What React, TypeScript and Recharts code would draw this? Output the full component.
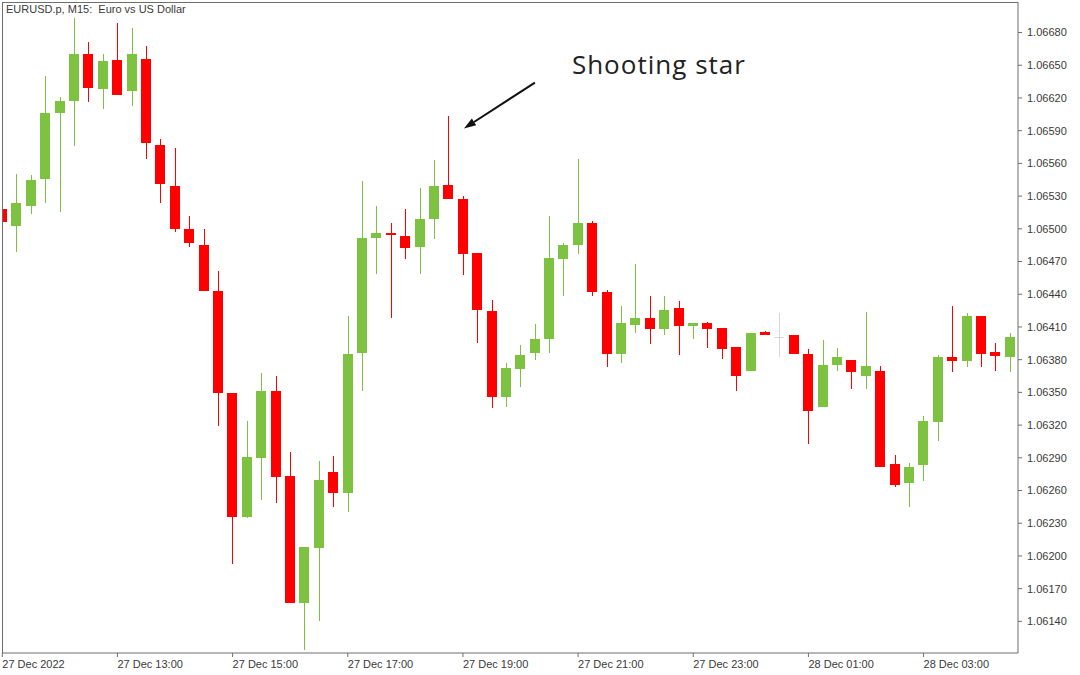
import React from 'react';
import { ComposedChart, Bar, XAxis, YAxis, ReferenceLine, ReferenceDot } from 'recharts';

const UP = '#7ec242';
const DOWN = '#ff0000';
const DOJI = '#d6d6d6';
const AXIS = '#6e6e6e';
const TEXT = '#3a3a3a';
const FONT = '"Liberation Sans", Arial, sans-serif';

// 27 Dec 11:00 -> 28 Dec 04:30, M15 bars
const times = [
  '27 Dec 11:00', '27 Dec 11:15', '27 Dec 11:30', '27 Dec 11:45',
  '27 Dec 12:00', '27 Dec 12:15', '27 Dec 12:30', '27 Dec 12:45',
  '27 Dec 13:00', '27 Dec 13:15', '27 Dec 13:30', '27 Dec 13:45',
  '27 Dec 14:00', '27 Dec 14:15', '27 Dec 14:30', '27 Dec 14:45',
  '27 Dec 15:00', '27 Dec 15:15', '27 Dec 15:30', '27 Dec 15:45',
  '27 Dec 16:00', '27 Dec 16:15', '27 Dec 16:30', '27 Dec 16:45',
  '27 Dec 17:00', '27 Dec 17:15', '27 Dec 17:30', '27 Dec 17:45',
  '27 Dec 18:00', '27 Dec 18:15', '27 Dec 18:30', '27 Dec 18:45',
  '27 Dec 19:00', '27 Dec 19:15', '27 Dec 19:30', '27 Dec 19:45',
  '27 Dec 20:00', '27 Dec 20:15', '27 Dec 20:30', '27 Dec 20:45',
  '27 Dec 21:00', '27 Dec 21:15', '27 Dec 21:30', '27 Dec 21:45',
  '27 Dec 22:00', '27 Dec 22:15', '27 Dec 22:30', '27 Dec 22:45',
  '27 Dec 23:00', '27 Dec 23:15', '27 Dec 23:30', '27 Dec 23:45',
  '28 Dec 00:00', '28 Dec 00:15', '28 Dec 00:30', '28 Dec 00:45',
  '28 Dec 01:00', '28 Dec 01:15', '28 Dec 01:30', '28 Dec 01:45',
  '28 Dec 02:00', '28 Dec 02:15', '28 Dec 02:30', '28 Dec 02:45',
  '28 Dec 03:00', '28 Dec 03:15', '28 Dec 03:30', '28 Dec 03:45',
  '28 Dec 04:00', '28 Dec 04:15', '28 Dec 04:30',
];

const opens = [
  1.06518, 1.06503, 1.06521, 1.06546, 1.06606, 1.06617, 1.06660, 1.06628, 1.06655, 1.06626,
  1.06656, 1.06577, 1.06539, 1.06500, 1.06485, 1.06443, 1.06349, 1.06236, 1.06290, 1.06351,
  1.06273, 1.06157, 1.06207, 1.06277, 1.06258, 1.06386, 1.06492, 1.06496, 1.06493, 1.06483,
  1.06509, 1.06540, 1.06527, 1.06478, 1.06425, 1.06346, 1.06371, 1.06386, 1.06399, 1.06472,
  1.06485, 1.06505, 1.06442, 1.06385, 1.06412, 1.06418, 1.06408, 1.06427, 1.06411, 1.06414,
  1.06409, 1.06392, 1.06370, 1.06405, 1.06401, 1.06403, 1.06385, 1.06337, 1.06375, 1.06380,
  1.06365, 1.06370, 1.06284, 1.06267, 1.06283, 1.06323, 1.06382, 1.06379, 1.06420, 1.06387,
  1.06382,
];

const highs = [
  1.06519, 1.06550, 1.06549, 1.06640, 1.06621, 1.06693, 1.06671, 1.06660, 1.06689, 1.06684,
  1.06668, 1.06582, 1.06574, 1.06512, 1.06500, 1.06461, 1.06349, 1.06324, 1.06368, 1.06365,
  1.06295, 1.06208, 1.06287, 1.06292, 1.06420, 1.06544, 1.06521, 1.06505, 1.06518, 1.06537,
  1.06563, 1.06603, 1.06530, 1.06478, 1.06435, 1.06377, 1.06393, 1.06413, 1.06512, 1.06487,
  1.06564, 1.06507, 1.06444, 1.06429, 1.06468, 1.06438, 1.06438, 1.06434, 1.06414, 1.06415,
  1.06409, 1.06392, 1.06404, 1.06406, 1.06423, 1.06403, 1.06390, 1.06398, 1.06391, 1.06380,
  1.06424, 1.06374, 1.06293, 1.06285, 1.06328, 1.06384, 1.06429, 1.06423, 1.06420, 1.06395,
  1.06404,
];

const lows = [
  1.06505, 1.06479, 1.06514, 1.06524, 1.06515, 1.06576, 1.06616, 1.06610, 1.06623, 1.06613,
  1.06564, 1.06524, 1.06497, 1.06483, 1.06443, 1.06319, 1.06193, 1.06235, 1.06251, 1.06249,
  1.06157, 1.06114, 1.06140, 1.06245, 1.06240, 1.06351, 1.06459, 1.06418, 1.06472, 1.06459,
  1.06491, 1.06527, 1.06458, 1.06395, 1.06336, 1.06337, 1.06355, 1.06380, 1.06386, 1.06438,
  1.06477, 1.06438, 1.06373, 1.06377, 1.06404, 1.06394, 1.06403, 1.06384, 1.06399, 1.06391,
  1.06381, 1.06351, 1.06370, 1.06403, 1.06382, 1.06385, 1.06303, 1.06337, 1.06370, 1.06353,
  1.06353, 1.06282, 1.06263, 1.06245, 1.06269, 1.06305, 1.06369, 1.06373, 1.06373, 1.06370,
  1.06369,
];

const closes = [
  1.06506, 1.06524, 1.06545, 1.06606, 1.06617, 1.06660, 1.06629, 1.06654, 1.06623, 1.06660,
  1.06579, 1.06541, 1.06500, 1.06487, 1.06443, 1.06349, 1.06236, 1.06291, 1.06351, 1.06272,
  1.06157, 1.06208, 1.06270, 1.06258, 1.06385, 1.06492, 1.06496, 1.06494, 1.06482, 1.06509,
  1.06539, 1.06527, 1.06477, 1.06426, 1.06346, 1.06372, 1.06384, 1.06399, 1.06473, 1.06485,
  1.06505, 1.06442, 1.06385, 1.06414, 1.06418, 1.06408, 1.06426, 1.06411, 1.06414, 1.06408,
  1.06390, 1.06365, 1.06404, 1.06403, 1.06401, 1.06385, 1.06333, 1.06375, 1.06382, 1.06369,
  1.06374, 1.06282, 1.06265, 1.06282, 1.06324, 1.06382, 1.06379, 1.06420, 1.06385, 1.06383,
  1.06401,
];

const priceTicks = [
  1.0614, 1.0617, 1.062, 1.0623, 1.0626, 1.0629, 1.0632, 1.0635, 1.0638, 1.0641,
  1.0644, 1.0647, 1.065, 1.0653, 1.0656, 1.0659, 1.0662, 1.0665, 1.0668,
];

const timeTicks = [0, 8, 16, 24, 32, 40, 48, 56, 64];
const timeTickLabels = [
  '27 Dec 2022', '27 Dec 13:00', '27 Dec 15:00', '27 Dec 17:00', '27 Dec 19:00',
  '27 Dec 21:00', '27 Dec 23:00', '28 Dec 01:00', '28 Dec 03:00',
];

const data = times.map((t, i) => ({
  idx: i,
  time: t,
  open: opens[i],
  high: highs[i],
  low: lows[i],
  close: closes[i],
  range: [lows[i], highs[i]],
}));

const Candle = (props: any) => {
  const { x, y, width, height, payload } = props;
  if (!payload) return null;
  const { open, close, high, low } = payload;
  const top = Math.min(y, y + height);
  const bottom = Math.max(y, y + height);
  const k = (bottom - top) / (high - low);
  const py = (v: number) => top + (high - v) * k;
  const color = close > open ? UP : close < open ? DOWN : DOJI;
  const bx = Math.round(x);
  const bw = Math.round(width);
  const wx = bx + Math.floor(bw / 2);
  const wTop = Math.round(top);
  const wBot = Math.round(bottom);
  const bTop = Math.round(py(Math.max(open, close)));
  const bBot = Math.round(py(Math.min(open, close)));
  return (
    <g shapeRendering="crispEdges">
      <rect x={wx} y={wTop} width={1} height={Math.max(1, wBot - wTop)} fill={color} />
      {open === close ? (
        <rect x={bx} y={bTop} width={bw} height={1} fill={color} />
      ) : (
        <rect x={bx} y={bTop} width={bw} height={Math.max(2, bBot - bTop)} fill={color} />
      )}
    </g>
  );
};

const TimeTick = (props: any) => {
  const { x, y, payload } = props;
  const label = timeTickLabels[timeTicks.indexOf(payload.value)] ?? '';
  return (
    <text x={x} y={y} dy={9} textAnchor="start" fontSize={11} fill={TEXT} fontFamily={FONT}>
      {label}
    </text>
  );
};

const Arrow = (props: any) => {
  const { x1, y1, x2, y2 } = props;
  if (x1 == null) return null;
  const ang = Math.atan2(y2 - y1, x2 - x1);
  const len = 12;
  const half = 4;
  const bx = x2 - len * Math.cos(ang);
  const by = y2 - len * Math.sin(ang);
  const px = -Math.sin(ang) * half;
  const py = Math.cos(ang) * half;
  return (
    <g>
      <line x1={x1} y1={y1} x2={bx} y2={by} stroke="#111" strokeWidth={2} />
      <polygon points={`${x2},${y2} ${bx + px},${by + py} ${bx - px},${by - py}`} fill="#111" />
    </g>
  );
};

const AnnotationText = (props: any) => {
  const { cx, cy } = props;
  return (
    <text x={cx} y={cy} dy="0.35em" fontSize={26} fill="#222" textLength={173} lengthAdjust="spacing"
      fontFamily='"Open Sans", "Noto Sans", sans-serif'>
      Shooting star
    </text>
  );
};

export default function App() {
  return (
    <div style={{ position: 'absolute', left: 0, top: 0, width: 1080, height: 675, background: '#fff', overflow: 'hidden' }}>
      <ComposedChart width={1080} height={675} data={data} margin={{ top: 2, right: 0, bottom: 0, left: 2 }}>
        <XAxis
          dataKey="idx"
          type="number"
          domain={[-0.02, 70.56]}
          allowDataOverflow
          ticks={timeTicks}
          tick={<TimeTick />}
          tickSize={4}
          height={22}
          axisLine={{ stroke: AXIS }}
          tickLine={{ stroke: AXIS }}
          interval={0}
        />
        <YAxis
          orientation="right"
          type="number"
          domain={[1.06111, 1.06708]}
          allowDataOverflow
          ticks={priceTicks}
          tickFormatter={(v: number) => v.toFixed(5)}
          width={62}
          tickSize={4}
          tickMargin={5}
          interval={0}
          axisLine={{ stroke: AXIS }}
          tickLine={{ stroke: AXIS }}
          tick={{ fill: TEXT, fontSize: 11, fontFamily: FONT }}
        />
        <Bar dataKey="range" barSize={10} shape={<Candle />} isAnimationActive={false} />
        <ReferenceLine
          segment={[{ x: 37.0, y: 1.06634 }, { x: 32.07, y: 1.06592 }]}
          shape={<Arrow />}
          ifOverflow="visible"
        />
        <ReferenceDot x={39.57} y={1.0665} r={0} shape={<AnnotationText />} ifOverflow="visible" />
      </ComposedChart>
      <div style={{ position: 'absolute', left: 2, top: 2, width: 1016, height: 651, borderLeft: `1px solid ${AXIS}`, borderTop: `1px solid ${AXIS}`, boxSizing: 'border-box', pointerEvents: 'none' }} />
      <div style={{ position: 'absolute', left: 6, top: 3, fontSize: 11, fontFamily: FONT, color: TEXT, whiteSpace: 'pre', lineHeight: '13px' }}>
        {'EURUSD.p, M15:  Euro vs US Dollar'}
      </div>
    </div>
  );
}
